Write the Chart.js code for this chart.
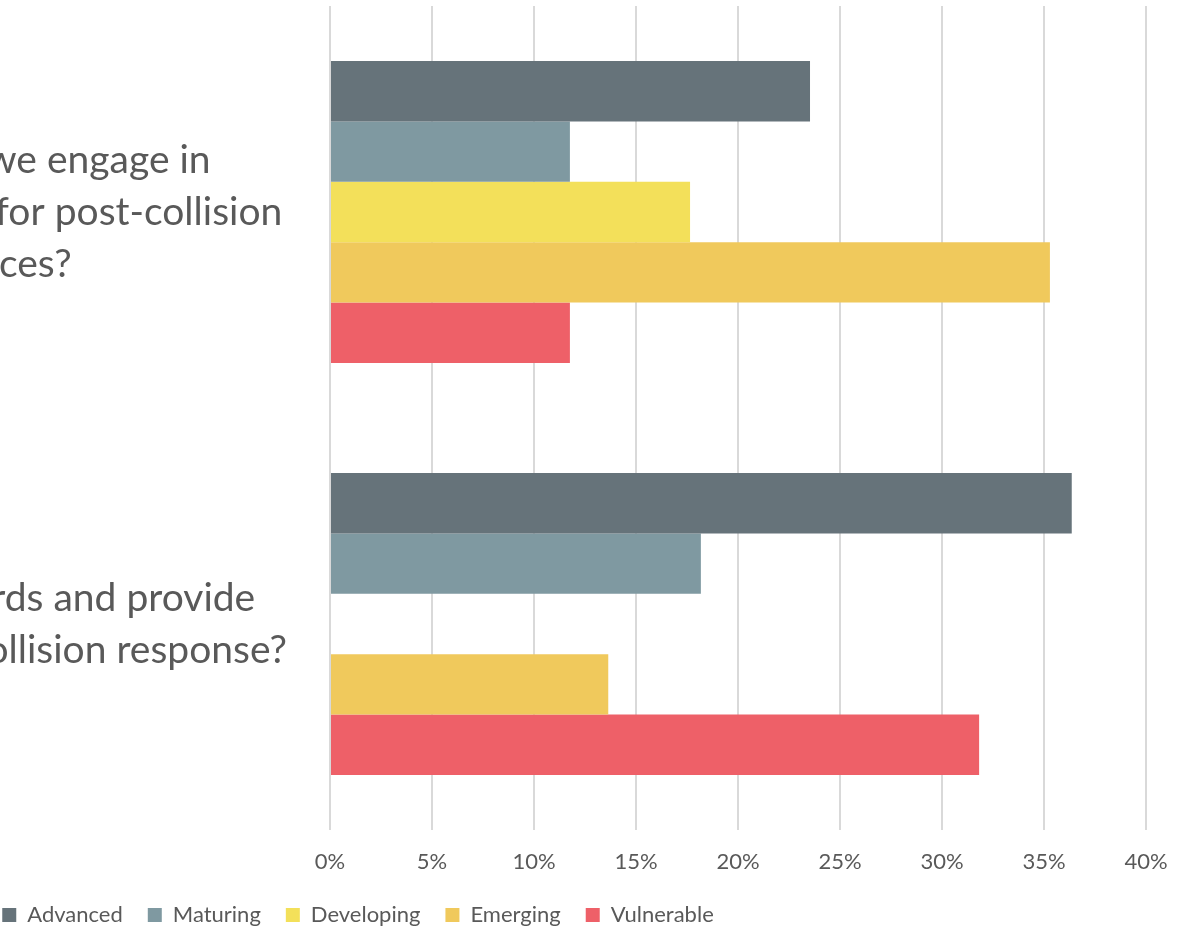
<!DOCTYPE html>
<html>
<head>
<meta charset="utf-8">
<script src="https://cdn.jsdelivr.net/npm/chart.js@4"></script>
<style>
    html, body { margin: 0; padding: 0; background: #ffffff; overflow: hidden; }
    #wrap { position: relative; width: 1179px; height: 930px; overflow: hidden; }
    #maturityChart { position: absolute; left: -463px; top: 0; }
</style>
</head>
<body>
<div id="wrap">
    <canvas id="maturityChart" width="1642" height="936"></canvas>
</div>
<script>
    const questions = [
        ['How regularly do we engage in', 'collaborative planning for post-collision', 'relief services?'],
        ['Do we maintain records and provide', 'data to support post-collision response?']
    ];
    const levels = ['Advanced', 'Maturing', 'Developing', 'Emerging', 'Vulnerable'];
    const levelColors = ['#66737A', '#7F99A1', '#F3E05A', '#F0C95C', '#EE6068'];

    // share of respondents (%) per question
    const advanced = [23.53, 36.36];
    const maturing = [11.76, 18.18];
    const developing = [17.65, 0];
    const emerging = [35.29, 13.64];
    const vulnerable = [11.76, 31.82];

    const axisTicks = [0, 5, 10, 15, 20, 25, 30, 35, 40];

    const textColor = '#595959';
    const fontFamily = "Lato, 'Open Sans', sans-serif";
    const legendPadding = 25;

    const seriesValues = [advanced, maturing, developing, emerging, vulnerable];

    const ctx = document.getElementById('maturityChart').getContext('2d');
    new Chart(ctx, {
        type: 'bar',
        data: {
            labels: questions,
            datasets: levels.map((name, i) => ({
                label: name,
                data: seriesValues[i],
                backgroundColor: levelColors[i],
                borderWidth: 0,
                barPercentage: 1,
                categoryPercentage: 0.733
            }))
        },
        options: {
            indexAxis: 'y',
            responsive: false,
            animation: false,
            devicePixelRatio: 1,
            layout: {
                padding: { top: 6, right: 33, bottom: 0, left: 33 }
            },
            scales: {
                x: {
                    min: axisTicks[0],
                    max: axisTicks[axisTicks.length - 1],
                    afterBuildTicks: (scale) => {
                        scale.ticks = axisTicks.map(v => ({ value: v }));
                    },
                    afterFit: (scale) => {
                        // keep the plot bottom fixed whatever the legend spacing
                        scale.height = 45 + (29 - legendPadding);
                        scale.paddingLeft = 0;
                        scale.paddingRight = 0;
                    },
                    grid: {
                        color: '#D9D9D9',
                        lineWidth: 2,
                        drawTicks: false
                    },
                    border: { display: false },
                    ticks: {
                        padding: 19,
                        color: textColor,
                        font: { family: fontFamily, size: 22 },
                        callback: (v) => v + '%'
                    }
                },
                y: {
                    grid: { display: false, drawTicks: false },
                    border: { display: false },
                    afterFit: (scale) => {
                        // fixed label column, no extra room above/below the tall labels
                        scale.width = 760;
                        scale.paddingTop = 0;
                        scale.paddingBottom = 0;
                    },
                    ticks: {
                        crossAlign: 'center',
                        padding: 43,
                        color: textColor,
                        font: { family: fontFamily, size: 39, lineHeight: 1.333 }
                    }
                }
            },
            plugins: {
                legend: {
                    position: 'bottom',
                    labels: {
                        boxWidth: 14,
                        boxHeight: 14,
                        padding: legendPadding,
                        color: textColor,
                        font: { family: fontFamily, size: 22 }
                    }
                },
                tooltip: { enabled: false }
            }
        }
    });
</script>
</body>
</html>
